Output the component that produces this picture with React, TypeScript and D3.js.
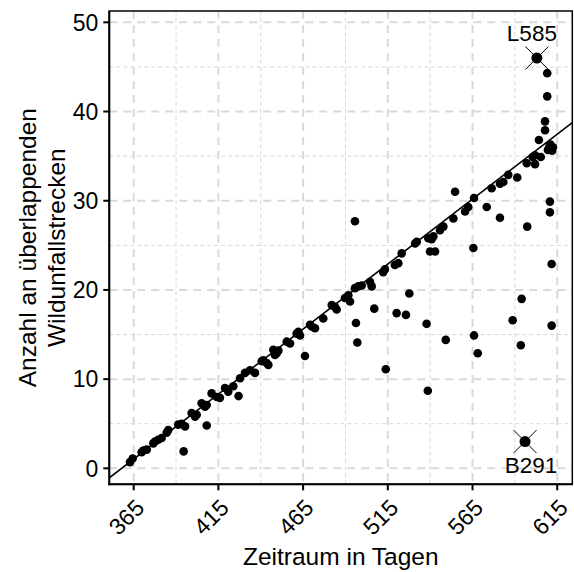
import * as d3 from 'd3'

// days covered vs. number of overlapping wildlife-accident stretches
const DAYS = [
  362.8, 364.4, 369.7, 370.7, 372.7, 376.6, 377.6, 379.5, 381.5, 384.5,
  385.4, 391.3, 393.3, 395.3, 399.2, 401.2, 402.2, 405.1, 407.1, 408.1,
  411.0, 414.0, 415.9, 418.9, 420.8, 423.8, 427.8, 430.7, 394.5, 408.1,
  426.9, 433.7, 436.6, 440.6, 441.5, 443.5, 444.5, 447.4, 448.4, 449.4,
  450.4, 455.3, 457.3, 461.2, 462.2, 463.2, 469.1, 470.1, 472.0, 476.9,
  481.9, 483.8, 484.8, 489.7, 491.7, 492.7, 495.6, 497.6, 466.1, 496.2,
  497.0, 499.6, 504.5, 505.5, 512.3, 513.3, 519.2, 521.2, 523.2, 531.1,
  532.1, 538.9, 540.9, 541.9, 539.9, 542.9, 545.8, 547.8, 553.7, 560.6,
  562.5, 565.9, 495.6, 554.7, 576.3, 581.2, 583.2, 586.1, 591.4, 597.0,
  600.5, 601.9, 601.9, 605.3, 604.2, 607.8, 607.8, 609.1, 609.1, 609.5,
  610.5, 611.0, 612.0, 612.5, 573.4, 581.2, 597.3, 610.7, 610.7, 565.5,
  611.7, 594.0, 527.7, 507.0, 520.2, 525.7, 537.9, 588.7, 611.7, 549.2,
  565.9, 568.1, 593.5, 513.8, 538.6
]
const COUNTS = [
  0.7, 1.1, 1.8, 2.0, 2.1, 2.8, 3.0, 3.2, 3.4, 4.0,
  4.3, 4.9, 5.0, 4.7, 6.2, 5.8, 6.0, 7.3, 6.9, 7.1,
  8.4, 8.0, 7.9, 9.0, 8.6, 9.2, 10.1, 10.7, 1.9, 4.8,
  8.1, 11.0, 10.7, 12.0, 12.1, 11.8, 11.6, 13.3, 12.7, 12.9,
  13.2, 14.2, 14.0, 15.1, 15.3, 14.9, 16.1, 15.9, 15.7, 16.8,
  18.3, 18.1, 17.8, 19.1, 19.4, 18.7, 20.2, 20.4, 12.6, 16.3,
  14.1, 20.5, 20.9, 20.4, 22.0, 22.3, 22.8, 23.0, 24.1, 25.2,
  25.4, 25.8, 25.7, 26.0, 24.3, 24.3, 26.7, 27.1, 28.0, 28.8,
  29.3, 30.3, 27.7, 31.0, 31.4, 31.9, 32.1, 32.9, 32.6, 34.2,
  34.9, 34.1, 35.1, 34.9, 36.8, 37.9, 38.9, 41.7, 44.3, 35.7,
  36.2, 36.3, 35.6, 36.0, 29.3, 28.1, 27.1, 29.9, 28.7, 24.7,
  22.9, 19.0, 19.6, 17.9, 17.4, 17.2, 16.2, 16.6, 16.0, 14.4,
  14.9, 12.9, 13.8, 11.1, 8.7
]

const HL_NAMES = ['L585', 'B291']
const HL_DAYS = [603.0, 596.0]
const HL_COUNTS = [46.0, 3.0]

const FIT_INTERCEPT = -52.14
const FIT_SLOPE = 0.1457

const X_TICKS = [365, 415, 465, 515, 565, 615]
const X_MINOR = [390, 440, 490, 540, 590]
const Y_TICKS = [0, 10, 20, 30, 40, 50]
const Y_MINOR = [5, 15, 25, 35, 45]

const X_DOMAIN = [350.6, 623.9]
const Y_DOMAIN = [-1.79, 51.27]

const W = 574
const H = 572
const FONT = '"Liberation Sans", Arial, sans-serif'

export default function App() {
  const left = 109.3, right = 572.3, top = 11, bottom = 484.3
  const x = d3.scaleLinear().domain(X_DOMAIN).range([left, right])
  const y = d3.scaleLinear().domain(Y_DOMAIN).range([bottom, top])

  const fitLine = d3.line<number>()
    .x(d => x(d))
    .y(d => y(FIT_INTERCEPT + FIT_SLOPE * d))

  const gridCol = '#d9d9d9'
  const midX = (left + right) / 2
  const midY = (top + bottom) / 2

  return (
    <svg width={W} height={H} style={{ position: 'absolute', left: 0, top: 0, background: '#fff' }}
      fontFamily={FONT}>
      <defs>
        <clipPath id="plot">
          <rect x={left} y={top} width={right - left} height={bottom - top} />
        </clipPath>
      </defs>

      {/* minor grid */}
      {X_MINOR.map(v => (
        <line key={'xm' + v} x1={x(v)} x2={x(v)} y1={top} y2={bottom}
          stroke={gridCol} strokeWidth={1} strokeDasharray="4,3" />
      ))}
      {Y_MINOR.map(v => (
        <line key={'ym' + v} x1={left} x2={right} y1={y(v)} y2={y(v)}
          stroke={gridCol} strokeWidth={1} strokeDasharray="4,3" />
      ))}
      {/* major grid */}
      {X_TICKS.map(v => (
        <line key={'xg' + v} x1={x(v)} x2={x(v)} y1={top} y2={bottom}
          stroke={gridCol} strokeWidth={2} strokeDasharray="8,6" />
      ))}
      {Y_TICKS.map(v => (
        <line key={'yg' + v} x1={left} x2={right} y1={y(v)} y2={y(v)}
          stroke={gridCol} strokeWidth={2} strokeDasharray="8,6" />
      ))}

      <g clipPath="url(#plot)">
        {DAYS.map((d, i) => (
          <circle key={'p' + i} cx={x(d)} cy={y(COUNTS[i])} r={4.3} fill="#000" />
        ))}
        <path d={fitLine(X_DOMAIN) || ''} fill="none" stroke="#000" strokeWidth={1.6} />
        {HL_DAYS.map((d, i) => {
          const cx = x(d), cy = y(HL_COUNTS[i]), a = 11.5
          return (
            <g key={'h' + i}>
              <circle cx={cx} cy={cy} r={5.5} fill="#000" />
              <line x1={cx - a} y1={cy - a} x2={cx + a} y2={cy + a} stroke="#000" strokeWidth={1} />
              <line x1={cx - a} y1={cy + a} x2={cx + a} y2={cy - a} stroke="#000" strokeWidth={1} />
            </g>
          )
        })}
      </g>

      {HL_NAMES.map((n, i) => {
        const cx = x(HL_DAYS[i]), cy = y(HL_COUNTS[i])
        const above = HL_COUNTS[i] > 25
        return (
          <text key={'l' + n} x={above ? cx - 5 : cx + 6} y={above ? cy - 17 : cy + 31}
            textAnchor="middle" fontSize={22.5} fill="#000">{n}</text>
        )
      })}

      {/* panel border */}
      <rect x={left} y={top} width={right - left} height={bottom - top}
        fill="none" stroke="#000" strokeWidth={1.5} />
      <line x1={left} x2={left} y1={top} y2={bottom + 1} stroke="#000" strokeWidth={2} />
      <line x1={left - 1} x2={right} y1={bottom} y2={bottom} stroke="#000" strokeWidth={2} />

      {/* axes */}
      {Y_TICKS.map(v => (
        <g key={'yt' + v}>
          <line x1={left - 6} x2={left} y1={y(v)} y2={y(v)} stroke="#000" strokeWidth={2} />
          <text x={left - 11} y={y(v)} dy="0.36em" textAnchor="end" fontSize={23} fill="#000">{v}</text>
        </g>
      ))}
      {X_TICKS.map(v => (
        <g key={'xt' + v}>
          <line x1={x(v)} x2={x(v)} y1={bottom} y2={bottom + 6} stroke="#000" strokeWidth={2} />
          <text transform={`translate(${x(v) + 12},${bottom + 25}) rotate(-45)`}
            textAnchor="end" fontSize={23} fill="#000">{v}</text>
        </g>
      ))}

      <text x={midX} y={565} textAnchor="middle" fontSize={24.5} fill="#000">Zeitraum in Tagen</text>
      <text transform={`translate(36,${midY}) rotate(-90)`} textAnchor="middle" fontSize={24.5} fill="#000">
        Anzahl an überlappenden
      </text>
      <text transform={`translate(65,${midY}) rotate(-90)`} textAnchor="middle" fontSize={24.5} fill="#000">
        Wildunfallstrecken
      </text>
    </svg>
  )
}
